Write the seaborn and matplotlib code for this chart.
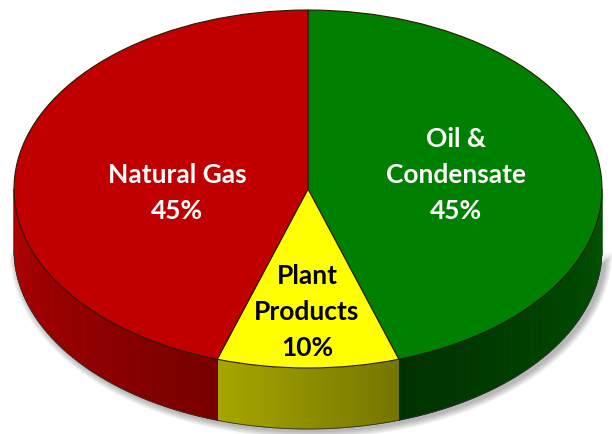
import numpy as np
import matplotlib
matplotlib.use("Agg")
import matplotlib.pyplot as plt
import matplotlib.colors as mcolors
from matplotlib.patches import Polygon
import seaborn as sns

sns.set_style("white")
plt.rcParams['font.family'] = ['Lato', 'DejaVu Sans']

# data
labels = ['Oil &\nCondensate', 'Plant\nProducts', 'Natural Gas']
shares = [45, 10, 45]
top_colors = ['#008000', '#FFFF00', '#C00000']
side_left = ['#003200', '#A6A600', '#B20000']
side_right = ['#005200', '#767600', '#780000']
text_colors = ['white', 'black', 'white']
# label centres in pixels (x, y from top)
label_pos = [(456, 175), (307, 312), (177, 193)]

# geometry of the tilted disc, in pixels
W, H = 612, 434
cx, cy, a, b = 308, 189, 294, 179
depth = 61
d = depth / b

fig = plt.figure(figsize=(W / 100, H / 100), dpi=100)
ax = fig.add_axes([0, 0, 1, 1])

# soft shadow under the disc
t = np.linspace(np.pi, 2 * np.pi, 200)
for k in range(6, 0, -1):
    off = k * 1.2
    xs = np.cos(t) * (1 + off / a) + 3 / a
    ys = np.sin(t) * (1 + off / b) - d - 2 / b
    pts = np.column_stack([np.r_[xs, xs[::-1]], np.r_[ys, np.sin(t[::-1]) * 0.3 - d]])
    ax.add_patch(Polygon(pts, closed=True, facecolor='black', edgecolor='none', alpha=0.05))

wedges, _ = ax.pie(shares, startangle=90, counterclock=False, colors=top_colors,
                   wedgeprops=dict(edgecolor='#2a1a00', linewidth=0.8))
for w in wedges:
    w.set_zorder(3)

# side walls of the visible front half
for w, cl, cr in zip(wedges, side_left, side_right):
    lo = max(w.theta1, -180)
    hi = min(w.theta2, 0)
    if w.theta2 > 180:
        lo, hi = max(w.theta1 - 360, -180), min(w.theta2 - 360, 0)
    if hi <= lo:
        continue
    edges = np.linspace(lo, hi, 40)
    c0 = np.array(mcolors.to_rgb(cl))
    c1 = np.array(mcolors.to_rgb(cr))
    for i in range(len(edges) - 1):
        ang = np.radians(np.linspace(edges[i], edges[i + 1], 4))
        top = np.column_stack([np.cos(ang), np.sin(ang)])
        bot = top[::-1] - [0, d]
        f = i / (len(edges) - 2)
        col = c0 * (1 - f) + c1 * f
        ax.add_patch(Polygon(np.vstack([top, bot]), closed=True, facecolor=col,
                             edgecolor=col, linewidth=0.6, zorder=2))
    for e in (lo, hi):
        if -180 < e < 0:
            r = np.radians(e)
            ax.plot([np.cos(r)] * 2, [np.sin(r), np.sin(r) - d], color='#202000',
                    linewidth=0.6, zorder=2.5)

# bottom outline of the wall
ax.plot(np.cos(t), np.sin(t) - d, color='#303030', linewidth=0.6, zorder=2.5)

for lab, pct, (px, py), tc in zip(labels, shares, label_pos, text_colors):
    ax.text((px - cx) / a, (cy - py) / b, f'{lab}\n{pct}%', ha='center', va='center',
            fontsize=19, fontweight='bold', color=tc, linespacing=1.6, zorder=5)

ax.set_aspect('auto')
ax.set_xlim(-cx / a, (W - cx) / a)
ax.set_ylim((cy - H) / b, cy / b)
ax.axis('off')

fig.savefig('out.png', dpi=100)
